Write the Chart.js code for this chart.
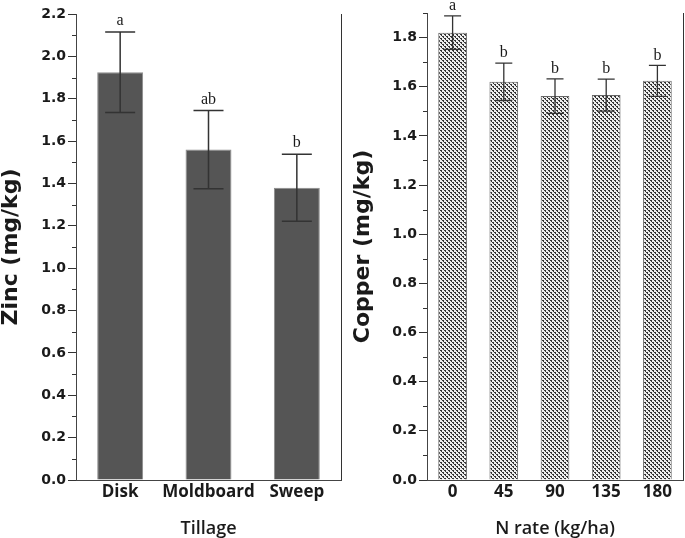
<!DOCTYPE html>
<html>
<head>
<meta charset="utf-8">
<script src="https://cdn.jsdelivr.net/npm/chart.js@4.4.0/dist/chart.umd.min.js"></script>
<style>
html, body { margin: 0; padding: 0; background: #fff; }
#wrap { position: relative; width: 685px; height: 538px; }
#zinc { position: absolute; left: 0; top: 0; }
#copper { position: absolute; left: 342px; top: 0; }
</style>
</head>
<body>
<div id="wrap">
<canvas id="zinc" width="342" height="538"></canvas>
<canvas id="copper" width="343" height="538"></canvas>
</div>
<script>
// left panel: tillage
var tillage = ['Disk', 'Moldboard', 'Sweep'];
var zincMean = [1.925, 1.56, 1.38];
var zincErr = [0.19, 0.185, 0.158];
var zincLetters = ['a', 'ab', 'b'];

// right panel: N rate
var nRates = ['0', '45', '90', '135', '180'];
var copperMean = [1.82, 1.62, 1.562, 1.566, 1.624];
var copperErr = [0.068, 0.076, 0.07, 0.065, 0.063];
var copperLetters = ['a', 'b', 'b', 'b', 'b'];

var ink = '#1a1a1a';

// error bars + letters over each bar
var errBars = {
	id: 'errbars',
	afterDatasetsDraw: function (chart, args, opts) {
		var ctx = chart.ctx, y = chart.scales.y;
		var meta = chart.getDatasetMeta(0);
		var vals = chart.data.datasets[0].data;
		ctx.save();
		ctx.strokeStyle = opts.color;
		ctx.lineWidth = opts.width;
		ctx.fillStyle = ink;
		ctx.font = '16px "Liberation Serif"';
		ctx.textAlign = 'center';
		ctx.textBaseline = 'middle';
		meta.data.forEach(function (bar, i) {
			var hi = y.getPixelForValue(vals[i] + opts.err[i]);
			var lo = y.getPixelForValue(vals[i] - opts.err[i]);
			ctx.beginPath();
			ctx.moveTo(bar.x, hi); ctx.lineTo(bar.x, lo);
			ctx.moveTo(bar.x - opts.cap, hi); ctx.lineTo(bar.x + opts.cap, hi);
			ctx.moveTo(bar.x - opts.cap, lo); ctx.lineTo(bar.x + opts.cap, lo);
			ctx.stroke();
			ctx.fillText(opts.letters[i], bar.x, hi - opts.gap);
		});
		ctx.restore();
	}
};

// minor y ticks and the right-hand frame line
var frame = {
	id: 'frame',
	afterDraw: function (chart) {
		var ctx = chart.ctx, a = chart.chartArea, y = chart.scales.y;
		ctx.save();
		ctx.strokeStyle = '#333';
		ctx.lineWidth = 1;
		ctx.beginPath();
		for (var i = 1; i * 0.1 <= y.max + 1e-9; i += 2) {
			var py = Math.round(y.getPixelForValue(i * 0.1)) + 0.5;
			ctx.moveTo(a.left - 4, py); ctx.lineTo(a.left, py);
		}
		ctx.moveTo(a.right + 0.5, a.top); ctx.lineTo(a.right + 0.5, a.bottom);
		ctx.stroke();
		ctx.restore();
	}
};

function stipple() {
	var c = document.createElement('canvas');
	c.width = 4; c.height = 4;
	var g = c.getContext('2d');
	g.fillStyle = '#eeeeee';
	g.fillRect(0, 0, 4, 4);
	g.fillStyle = '#333';
	[[0, 0], [1, 0], [1, 1], [2, 2], [3, 2], [3, 3]].forEach(function (p) {
		g.fillRect(p[0], p[1], 1, 1);
	});
	return g.createPattern(c, 'repeat');
}

function axes(yMax, yTitle, xTitle, yWidth, yTitlePad) {
	return {
		x: {
			afterFit: function (s) { s.height = 58; },
			border: { display: true, color: '#444', width: 1 },
			grid: { display: false, drawTicks: false },
			ticks: {
				padding: 2, color: ink, autoSkip: false, maxRotation: 0, minRotation: 0,
				font: { family: 'Open Sans', weight: 'bold', size: 17 }
			},
			title: {
				display: true, text: xTitle, color: ink,
				font: { family: 'Open Sans', weight: '600', size: 18, lineHeight: 1.2 },
				padding: { top: 0, bottom: -2 }
			}
		},
		y: {
			min: 0, max: yMax,
			afterFit: function (s) { s.width = yWidth; },
			border: { display: true, color: '#444', width: 1 },
			grid: { display: true, drawOnChartArea: false, drawTicks: true, tickLength: 8, color: '#333' },
			ticks: {
				stepSize: 0.2, includeBounds: false, padding: 2, color: ink,
				font: { family: 'DejaVu Sans', weight: 'bold', size: 14 },
				callback: function (v) { return v.toFixed(1); }
			},
			title: {
				display: true, text: yTitle, color: ink,
				font: { family: 'DejaVu Sans', weight: 'bold', size: 22, lineHeight: 1 },
				padding: { top: yTitlePad, bottom: 0 }
			}
		}
	};
}

new Chart(document.getElementById('zinc').getContext('2d'), {
	type: 'bar',
	data: {
		labels: tillage,
		datasets: [{
			data: zincMean,
			backgroundColor: '#555555',
			borderColor: '#8c8c8c',
			borderWidth: 1,
			barPercentage: 0.52,
			categoryPercentage: 1
		}]
	},
	options: {
		responsive: false,
		animation: false,
		devicePixelRatio: 1,
		layout: { padding: { left: 0, right: 1, top: 14, bottom: 0 } },
		scales: axes(2.2, 'Zinc (mg/kg)', 'Tillage', 76, 0),
		plugins: {
			legend: { display: false },
			tooltip: { enabled: false },
			errbars: { err: zincErr, letters: zincLetters, cap: 15, width: 1.5, color: '#333', gap: 11 }
		}
	},
	plugins: [errBars, frame]
});

new Chart(document.getElementById('copper').getContext('2d'), {
	type: 'bar',
	data: {
		labels: nRates,
		datasets: [{
			data: copperMean,
			backgroundColor: stipple(),
			borderColor: '#666',
			borderWidth: 1,
			barPercentage: 0.56,
			categoryPercentage: 1
		}]
	},
	options: {
		responsive: false,
		animation: false,
		devicePixelRatio: 1,
		layout: { padding: { left: 0, right: 2, top: 13, bottom: 0 } },
		scales: axes(1.9, 'Copper (mg/kg)', 'N rate (kg/ha)', 85, 10),
		plugins: {
			legend: { display: false },
			tooltip: { enabled: false },
			errbars: { err: copperErr, letters: copperLetters, cap: 8.5, width: 1.3, color: '#333', gap: 10 }
		}
	},
	plugins: [errBars, frame]
});
</script>
</body>
</html>
